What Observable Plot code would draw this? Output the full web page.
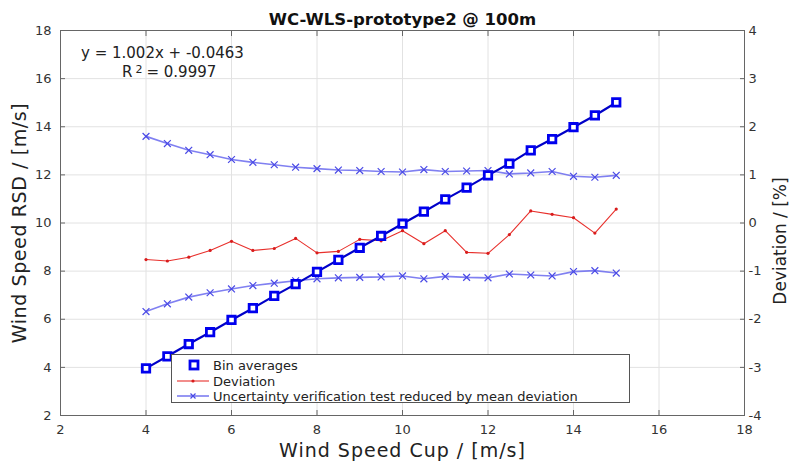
<!DOCTYPE html>
<html><head><meta charset="utf-8">
<script src="https://cdn.jsdelivr.net/npm/d3@7"></script>
<script src="https://cdn.jsdelivr.net/npm/@observablehq/plot@0.6"></script>
<style>
body{margin:0;background:#fff;font-family:"DejaVu Sans",sans-serif;}
#wrap{position:relative;width:790px;height:461px;overflow:hidden;}
#eq{position:absolute;left:81px;top:44px;font-size:15px;color:#222;}
#eq .l1{position:absolute;left:0;top:0;white-space:nowrap;line-height:18px;}
#eq .r{position:absolute;left:41px;top:19px;white-space:nowrap;line-height:18px;}
#eq sup{font-size:11px;vertical-align:4px;line-height:0;padding:0 4px 0 3px;}
#legend{position:absolute;left:171px;top:354px;width:457px;height:47px;border:1px solid #555;background:#fff;font-size:13px;color:#222;}
#legend .row{position:absolute;left:0;height:16px;display:flex;align-items:center;}
#legend svg{width:40px;height:16px;margin-left:1px;}
</style></head><body><div id="wrap"></div>
<script>
const windSpeed = [4,4.5,5,5.5,6,6.5,7,7.5,8,8.5,9,9.5,10,10.5,11,11.5,12,12.5,13,13.5,14,14.5,15];
const binAverages = [3.96,4.46,4.97,5.46,5.97,6.46,6.97,7.46,7.97,8.47,8.97,9.46,9.97,10.47,10.98,11.47,11.98,12.47,13.02,13.49,13.98,14.47,15.01];
const deviation = [-0.76,-0.79,-0.71,-0.57,-0.38,-0.57,-0.53,-0.32,-0.62,-0.59,-0.34,-0.37,-0.16,-0.43,-0.16,-0.61,-0.63,-0.24,0.25,0.18,0.11,-0.21,0.29];
const uncUpper = [1.80,1.65,1.51,1.42,1.32,1.26,1.21,1.16,1.13,1.10,1.09,1.07,1.06,1.11,1.07,1.08,1.09,1.02,1.04,1.07,0.97,0.95,0.99];
const uncLower = [-1.84,-1.68,-1.54,-1.45,-1.37,-1.30,-1.25,-1.20,-1.16,-1.14,-1.13,-1.12,-1.10,-1.16,-1.11,-1.13,-1.14,-1.06,-1.08,-1.10,-1.01,-0.99,-1.04];
const xTicks = [2,4,6,8,10,12,14,16,18];
const yTicks = [2,4,6,8,10,12,14,16,18];
const devTicks = [-4,-3,-2,-1,0,1,2,3,4];
const titleText = "WC-WLS-prototype2 @ 100m";
const xLabel = "Wind Speed Cup / [m/s]";
const yLabel = "Wind Speed RSD / [m/s]";
const y2Label = "Deviation / [%]";
const legendLabels = ["Bin averages","Deviation","Uncertainty verification test reduced by mean deviation"];

const rows = windSpeed.map((ws,i)=>({ws, bin:binAverages[i], dev:deviation[i], up:uncUpper[i], lo:uncLower[i]}));
// right axis (deviation %) shares the frame: dev 0 ↔ 10 m/s, 1 % ↔ 2 m/s
const toY = d => 10 + 2*d;

const blue = "#0000ee", unc = "#6a6aee", red = "#e8302c", ink = "#333";
const font = "DejaVu Sans";

const chart = Plot.plot({
  width: 790, height: 461,
  marginLeft: 60, marginRight: 46, marginTop: 30, marginBottom: 46,
  style: {fontFamily: font, background: "#fff", color: ink},
  x: {domain: [2,18]},
  y: {domain: [2,18]},
  marks: [
    Plot.gridX({ticks: xTicks, stroke: "#e2e2e2", strokeOpacity: 1}),
    Plot.gridY({ticks: yTicks, stroke: "#e2e2e2", strokeOpacity: 1}),
    Plot.frame({stroke: "#666"}),
    Plot.axisX({anchor: "bottom", ticks: xTicks, tickSize: 0, tickPadding: 9, fontSize: 13, label: null}),
    Plot.axisX({anchor: "bottom", ticks: xTicks, tickSize: -5, tickFormat: () => "", label: null, stroke: "#666"}),
    Plot.axisX({anchor: "top", ticks: xTicks, tickSize: -5, tickFormat: () => "", label: null, stroke: "#666"}),
    Plot.axisY({anchor: "left", ticks: yTicks, tickSize: 0, tickPadding: 9, fontSize: 13, label: null}),
    Plot.axisY({anchor: "left", ticks: yTicks, tickSize: -5, tickFormat: () => "", label: null, stroke: "#666"}),
    Plot.axisY({anchor: "right", ticks: devTicks.map(toY), tickSize: 0, tickPadding: 4, fontSize: 13, label: null, tickFormat: d => String((d-10)/2)}),
    Plot.axisY({anchor: "right", ticks: devTicks.map(toY), tickSize: -5, tickFormat: () => "", label: null, stroke: "#666"}),
    Plot.text([titleText], {frameAnchor: "top", lineAnchor: "middle", dy: -11, fontWeight: "bold", fontSize: 16.5, fill: "#111"}),
    Plot.text([xLabel], {frameAnchor: "bottom", lineAnchor: "middle", dy: 35, fontSize: 19, fill: "#222"}),
    Plot.text([yLabel], {frameAnchor: "left", textAnchor: "middle", lineAnchor: "middle", dx: -41, rotate: -90, fontSize: 19, fill: "#222"}),
    Plot.text([y2Label], {frameAnchor: "right", textAnchor: "middle", lineAnchor: "middle", dx: 36, dy: 18, rotate: -90, fontSize: 17, fill: "#222"}),
    Plot.line(rows, {x: "ws", y: d => toY(d.up), stroke: unc, strokeWidth: 1.6, strokeOpacity: 0.85}),
    Plot.dot(rows, {x: "ws", y: d => toY(d.up), symbol: "times", r: 3.2, stroke: "#4a4ae6", strokeWidth: 1.2}),
    Plot.line(rows, {x: "ws", y: d => toY(d.lo), stroke: unc, strokeWidth: 1.6, strokeOpacity: 0.85}),
    Plot.dot(rows, {x: "ws", y: d => toY(d.lo), symbol: "times", r: 3.2, stroke: "#4a4ae6", strokeWidth: 1.2}),
    Plot.line(rows, {x: "ws", y: d => toY(d.dev), stroke: red, strokeWidth: 1.1}),
    Plot.dot(rows, {x: "ws", y: d => toY(d.dev), r: 1.6, fill: "#d81c1c"}),
    Plot.line(rows, {x: "ws", y: "bin", stroke: "#0000c8", strokeWidth: 2.2}),
    Plot.dot(rows, {x: "ws", y: "bin", symbol: "square", r: 4.2, stroke: blue, strokeWidth: 2.8, fill: "#fff"})
  ]
});

const wrap = document.getElementById("wrap");
wrap.appendChild(chart);
d3.select(chart).selectAll("text")
  .filter(function(){ return this.textContent === xLabel; })
  .style("letter-spacing", "1px");
d3.select(chart).selectAll("text")
  .filter(function(){ return this.textContent === yLabel; })
  .style("letter-spacing", "0.6px");

const eq = document.createElement("div");
eq.id = "eq";
eq.innerHTML = '<div class="l1">y = 1.002x + -0.0463</div><div class="r">R<sup>2</sup>= 0.9997</div>';
wrap.appendChild(eq);

const lg = document.createElement("div");
lg.id = "legend";
const sw = [
  `<svg viewBox="0 0 40 16"><rect x="17" y="4" width="8" height="8" fill="#fff" stroke="${blue}" stroke-width="2.8"/></svg>`,
  `<svg viewBox="0 0 40 16"><line x1="4" x2="36" y1="8" y2="8" stroke="${red}" stroke-width="1.1"/><circle cx="20" cy="8" r="1.6" fill="#d81c1c"/></svg>`,
  `<svg viewBox="0 0 40 16"><line x1="4" x2="36" y1="8" y2="8" stroke="${unc}" stroke-width="1.4"/><path d="M17.5,5.5L22.5,10.5M22.5,5.5L17.5,10.5" stroke="#4a4ae6" stroke-width="1.2"/></svg>`
];
const tops = [2, 18, 33];
legendLabels.forEach((t,i)=>{
  const r = document.createElement("div");
  r.className = "row";
  r.style.top = tops[i] + "px";
  r.innerHTML = sw[i] + `<span>${t}</span>`;
  lg.appendChild(r);
});
wrap.appendChild(lg);
</script>
</body></html>
